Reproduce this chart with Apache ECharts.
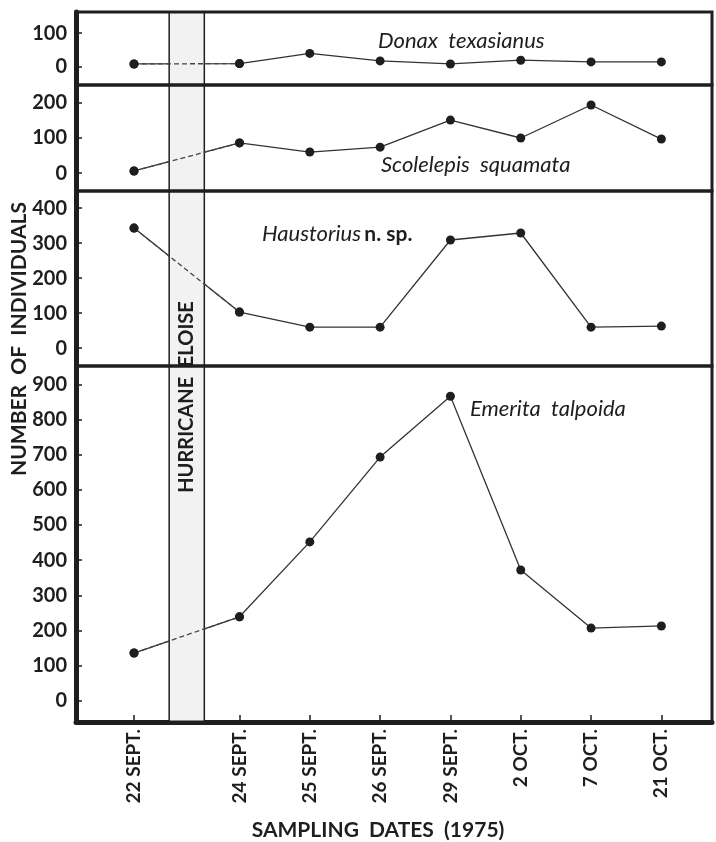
<!DOCTYPE html>
<html>
<head>
<meta charset="utf-8">
<script src="https://cdn.jsdelivr.net/npm/echarts@6/dist/echarts.min.js"></script>
<style>
html,body{margin:0;padding:0;background:#fff;}
#chart{width:716px;height:842px;}
</style>
</head>
<body>
<div id="chart"></div>
<script>
// ---- data ----
const dateLabels = ['22 SEPT.', '24 SEPT.', '25 SEPT.', '26 SEPT.', '29 SEPT.', '2 OCT.', '7 OCT.', '21 OCT.'];
// sampling positions on the x scale (gap after 22 Sept for the hurricane)
const xPos = [0, 1.5, 2.5, 3.5, 4.5, 5.5, 6.5, 7.5];
const hurricaneBand = [0.5, 1.0];

const speciesNames = ['Donax  texasianus', 'Scolelepis  squamata', 'Haustorius', 'Emerita  talpoida'];
const donax      = [9, 10, 40, 18, 9, 20, 15, 15];
const scolelepis = [6, 86, 60, 74, 151, 100, 194, 97];
const haustorius = [343, 103, 60, 60, 309, 329, 60, 63];
const emerita    = [136, 239, 452, 693, 866, 372, 207, 213];

const yTicks1 = [0, 100];
const yTicks2 = [0, 100, 200];
const yTicks3 = [0, 100, 200, 300, 400];
const yTicks4 = [0, 100, 200, 300, 400, 500, 600, 700, 800, 900];

// ---- layout ----
const panels = [
  {vals: donax,      ticks: yTicks1, top: 12,  h: 73,  min: -53, max: 162},
  {vals: scolelepis, ticks: yTicks2, top: 85,  h: 106, min: -51, max: 251},
  {vals: haustorius, ticks: yTicks3, top: 191, h: 175, min: -51, max: 449},
  {vals: emerita,    ticks: yTicks4, top: 366, h: 356, min: -60, max: 952}
];
const FONT = 'Lato, "DejaVu Sans", sans-serif';
const INK = '#1e1e1e';

const grids = [], xAxes = [], yAxes = [], series = [];
panels.forEach((p, i) => {
  const last = i === panels.length - 1;
  grids.push({left: 76, right: 4, top: p.top, height: p.h, show: true, z: 10,
    borderColor: INK, borderWidth: 3, backgroundColor: 'transparent'});
  xAxes.push({
    type: 'value', gridIndex: i, min: -0.825, max: 8.22,
    show: last,
    splitLine: {show: false},
    axisLine: {show: last, onZero: false, lineStyle: {color: INK, width: 5}},
    axisTick: {show: last, inside: true, length: 7, customValues: xPos, lineStyle: {color: INK, width: 1.5}},
    axisLabel: {show: last, customValues: xPos, rotate: 90, margin: 7,
      fontFamily: FONT, fontWeight: 'bold', fontSize: 19, color: INK,
      formatter: v => { const k = xPos.indexOf(v); return k >= 0 ? dateLabels[k] : ''; }}
  });
  yAxes.push({
    type: 'value', gridIndex: i, min: p.min, max: p.max,
    splitLine: {show: false},
    axisLine: {show: true, onZero: false, lineStyle: {color: INK, width: 5}},
    axisTick: {show: true, inside: true, length: 6, customValues: p.ticks, lineStyle: {color: INK, width: 1.5}},
    axisLabel: {customValues: p.ticks, margin: 9, fontFamily: FONT, fontWeight: 'bold',
      fontSize: 20, color: INK}
  });
  const pts = xPos.map((x, k) => [x, p.vals[k]]);
  // full solid line
  series.push({
    type: 'line', xAxisIndex: i, yAxisIndex: i, data: pts,
    symbol: 'circle', symbolSize: 9, itemStyle: {color: INK},
    lineStyle: {color: '#333', width: 1.3},
    silent: true, animation: false, z: 2
  });
  // hurricane band drawn over the line
  series.push({
    type: 'line', xAxisIndex: i, yAxisIndex: i, data: [],
    silent: true, animation: false, z: 3,
    markArea: {silent: true, z: 3,
      itemStyle: {color: '#f2f2f2', borderColor: INK, borderWidth: 1.5},
      data: [[{xAxis: hurricaneBand[0]}, {xAxis: hurricaneBand[1]}]]}
  });
  // dashed segment across the hurricane gap
  series.push({
    type: 'line', xAxisIndex: i, yAxisIndex: i, data: pts.slice(0, 2),
    symbol: 'circle', symbolSize: 9, itemStyle: {color: INK},
    lineStyle: {color: '#444', width: 1.3, type: [5, 3]},
    silent: true, animation: false, z: 5
  });
});

const italic = {fontFamily: FONT, fontStyle: 'italic', fontSize: 22, fill: INK};
const chart = echarts.init(document.getElementById('chart'));
chart.setOption({
  backgroundColor: '#fff',
  animation: false,
  grid: grids, xAxis: xAxes, yAxis: yAxes, series: series,
  graphic: [
    {type: 'text', left: 378, top: 30, z: 100, style: Object.assign({text: speciesNames[0]}, italic)},
    {type: 'text', left: 381, top: 154, z: 100, style: Object.assign({text: speciesNames[1]}, italic)},
    {type: 'text', left: 262, top: 223, z: 100, style: {
      text: '{i|' + speciesNames[2] + '} {b|n. sp.}',
      rich: {i: {fontFamily: FONT, fontStyle: 'italic', fontSize: 22, fill: INK, color: INK},
             b: {fontFamily: FONT, fontWeight: 'bold', fontSize: 21, fill: INK, color: INK}}}},
    {type: 'text', left: 470, top: 398, z: 100, style: Object.assign({text: speciesNames[3]}, italic)},
    {type: 'text', x: 187, y: 397, rotation: Math.PI / 2, z: 100, style: {
      text: 'HURRICANE  ELOISE', fontFamily: FONT, fontWeight: 'bold', fontSize: 20, fill: INK,
      align: 'center', verticalAlign: 'middle'}},
    {type: 'text', x: 19, y: 339, rotation: Math.PI / 2, z: 100, style: {
      text: 'NUMBER  OF  INDIVIDUALS', fontFamily: FONT, fontWeight: 'bold', fontSize: 21, fill: INK,
      align: 'center', verticalAlign: 'middle'}},
    {type: 'text', x: 378, y: 830, z: 100, style: {
      text: 'SAMPLING  DATES  (1975)', fontFamily: FONT, fontWeight: 'bold', fontSize: 21, fill: INK,
      align: 'center', verticalAlign: 'middle'}}
  ]
});
</script>
</body>
</html>
